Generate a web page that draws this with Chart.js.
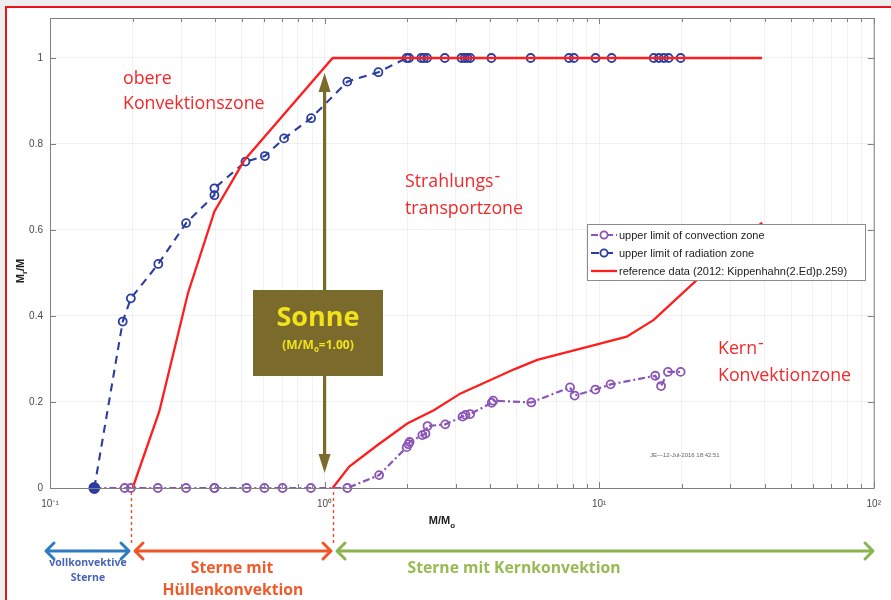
<!DOCTYPE html>
<html>
<head>
<meta charset="utf-8">
<script src="https://cdn.jsdelivr.net/npm/chart.js@4.4.0/dist/chart.umd.min.js"></script>
<style>
  html, body { margin: 0; padding: 0; background: #ffffff; }
  #wrap { width: 891px; height: 600px; position: relative; }
</style>
</head>
<body>
<div id="wrap"><canvas id="c" width="891" height="600"></canvas></div>
<script>
// Stellar models: upper limit of the radiation zone (mass fraction M_r/M)
const radMass = [0.145, 0.184, 0.197, 0.248, 0.313, 0.397, 0.397, 0.515, 0.606, 0.712, 0.893, 1.21, 1.57,
                 1.99, 2.03, 2.25, 2.30, 2.36, 2.74, 3.15, 3.24, 3.31, 3.39, 4.05, 5.63, 7.76, 8.09, 9.70,
                 11.1, 15.8, 16.5, 17.2, 17.9, 19.8];
const radFrac = [0, 0.387, 0.441, 0.521, 0.616, 0.681, 0.697, 0.759, 0.772, 0.813, 0.860, 0.945, 0.967,
                 1, 1, 1, 1, 1, 1, 1, 1, 1, 1, 1, 1, 1, 1, 1,
                 1, 1, 1, 1, 1, 1];

// Stellar models: upper limit of the convection zone
const convMass = [0.145, 0.187, 0.197, 0.247, 0.313, 0.397, 0.397, 0.52, 0.604, 0.703, 0.891, 1.21, 1.58,
                  1.99, 2.02, 2.04, 2.27, 2.33, 2.37, 2.75, 3.18, 3.26, 3.39, 4.06, 4.11, 5.66, 7.83, 8.14,
                  9.69, 11.0, 16.0, 16.8, 17.8, 19.8];
const convFrac = [0, 0, 0, 0, 0, 0, 0, 0, 0, 0, 0, 0, 0.030,
                  0.095, 0.102, 0.107, 0.123, 0.126, 0.144, 0.148, 0.166, 0.170, 0.172, 0.198, 0.203, 0.199,
                  0.234, 0.215, 0.229, 0.241, 0.261, 0.237, 0.270, 0.270];

// Reference data (Kippenhahn): lower edge of the outer convection zone
const refEnvMass = [0.2, 0.25, 0.318, 0.397, 0.511, 1.07, 39.2];
const refEnvFrac = [0, 0.178, 0.453, 0.643, 0.763, 1.0, 1.0];

// Reference data (Kippenhahn): edge of the convective core
const refCoreMass = [1.07, 1.23, 1.56, 2.0, 2.5, 3.13, 4.02, 4.9, 5.95, 9.67, 12.6, 15.8, 22.7, 39.2];
const refCoreFrac = [0, 0.050, 0.100, 0.150, 0.181, 0.220, 0.251, 0.276, 0.298, 0.333, 0.352, 0.391, 0.484, 0.617];

// Axis ticks
const xDecades = [0.1, 1, 10, 100];
const xDecadeLabels = ['10\u207B\u00B9', '10\u2070', '10\u00B9', '10\u00B2'];
const yTicks = [0, 0.2, 0.4, 0.6, 0.8, 1];
const yTickLabels = ['0', '0.2', '0.4', '0.6', '0.8', '1'];

const PURPLE = '#8a55b6';
const BLUE = '#2b3d9f';
const RED = '#ff1e1e';
const OLIVE = '#7a6a2c';
const TXT_RED = '#f2282a';
const SANS = '"Liberation Sans", Arial, sans-serif';
const HUMAN = '"Open Sans", "Noto Sans", sans-serif';

const pts = (xs, ys) => xs.map((x, i) => ({ x, y: ys[i] }));

// draw a run of text pieces (for subscripts), left or centred
function textRuns(ctx, list, x, y, align, color, family, weight) {
  let total = 0;
  for (const [t, s] of list) {
    ctx.font = `${weight} ${s}px ${family}`;
    total += ctx.measureText(t).width;
  }
  let cx = align === 'center' ? x - total / 2 : x;
  ctx.fillStyle = color;
  ctx.textAlign = 'left';
  ctx.textBaseline = 'alphabetic';
  for (const [t, s, dy] of list) {
    ctx.font = `${weight} ${s}px ${family}`;
    ctx.fillText(t, cx, y + (dy || 0));
    cx += ctx.measureText(t).width;
  }
}

function dblArrow(ctx, x1, x2, y, color) {
  const h = 8;
  ctx.save();
  ctx.strokeStyle = color;
  ctx.lineWidth = 3;
  ctx.lineCap = 'round';
  ctx.lineJoin = 'round';
  ctx.beginPath();
  ctx.moveTo(x1 + 1, y); ctx.lineTo(x2 - 1, y);
  ctx.moveTo(x1 + h, y - h); ctx.lineTo(x1, y); ctx.lineTo(x1 + h, y + h);
  ctx.moveTo(x2 - h, y - h); ctx.lineTo(x2, y); ctx.lineTo(x2 - h, y + h);
  ctx.stroke();
  ctx.restore();
}

const decorations = {
  id: 'decorations',
  beforeDraw(chart) {
    const { ctx, width, height } = chart;
    ctx.save();
    ctx.fillStyle = '#ffffff';
    ctx.fillRect(0, 0, width, height);
    ctx.fillStyle = '#eeeeee';
    ctx.fillRect(0, 0, width, 6);
    ctx.fillRect(0, 0, 5, height);
    ctx.restore();
  },
  afterDatasetsDraw(chart) {
    const { ctx, chartArea: a, scales } = chart;
    const xs = scales.x, ys = scales.y;
    ctx.save();

    // frame with inward ticks
    ctx.strokeStyle = '#808080';
    ctx.lineWidth = 1;
    ctx.strokeRect(a.left + 0.5, a.top + 0.5, a.right - a.left, a.bottom - a.top);
    ctx.beginPath();
    for (const t of xs.ticks) {
      const px = Math.round(xs.getPixelForValue(t.value)) + 0.5;
      const major = xDecades.some(d => Math.abs(d - t.value) < 1e-9);
      const len = major ? 6 : 4;
      ctx.moveTo(px, a.bottom); ctx.lineTo(px, a.bottom - len);
      ctx.moveTo(px, a.top); ctx.lineTo(px, a.top + len);
    }
    for (const v of yTicks) {
      const py = Math.round(ys.getPixelForValue(v)) + 0.5;
      ctx.moveTo(a.left, py); ctx.lineTo(a.left + 6, py);
      ctx.moveTo(a.right, py); ctx.lineTo(a.right - 6, py);
    }
    ctx.stroke();

    // zone labels inside the plot
    ctx.fillStyle = TXT_RED;
    ctx.font = `17.8px ${HUMAN}`;
    ctx.textAlign = 'left';
    ctx.textBaseline = 'alphabetic';
    ctx.fillText('obere', 123, 84);
    ctx.fillText('Konvektionszone', 123, 109);
    ctx.fillText('Strahlungs', 405, 187);
    ctx.fillText('-', 405 + ctx.measureText('Strahlungs').width + 1, 182);
    ctx.fillText('transportzone', 405, 214);
    ctx.fillText('Kern', 718, 354);
    ctx.fillText('-', 718 + ctx.measureText('Kern').width + 1, 349);
    ctx.fillText('Konvektionzone', 718, 381);

    // solar-mass marker: double arrow at M = 1
    const ax = xs.getPixelForValue(1);
    const yTop = ys.getPixelForValue(0.965), yBot = ys.getPixelForValue(0.035);
    ctx.strokeStyle = OLIVE;
    ctx.fillStyle = OLIVE;
    ctx.lineWidth = 3.2;
    ctx.beginPath();
    ctx.moveTo(ax, yTop + 15); ctx.lineTo(ax, yBot - 15);
    ctx.stroke();
    ctx.beginPath();
    ctx.moveTo(ax, yTop); ctx.lineTo(ax - 6, yTop + 19); ctx.lineTo(ax + 6, yTop + 19); ctx.closePath();
    ctx.moveTo(ax, yBot); ctx.lineTo(ax - 6, yBot - 19); ctx.lineTo(ax + 6, yBot - 19); ctx.closePath();
    ctx.fill();

    // "Sonne" box
    ctx.fillStyle = OLIVE;
    ctx.fillRect(253, 290, 130, 86);
    ctx.fillStyle = '#f2e21c';
    ctx.textAlign = 'center';
    ctx.font = `bold 27px ${HUMAN}`;
    ctx.fillText('Sonne', 318, 326);
    textRuns(ctx, [['(M/M', 12, 0], ['o', 8, 3], ['=1.00)', 12, 0]], 318, 349, 'center', '#f2e21c', HUMAN, 'bold');

    // timestamp
    ctx.fillStyle = '#666666';
    ctx.font = `6px ${SANS}`;
    ctx.textAlign = 'left';
    ctx.textBaseline = 'middle';
    ctx.fillText('JE---12-Jul-2016 18:42:51', 650, 455);

    // legend
    const lx = 587, ly = 224, lw = 278, lh = 56;
    ctx.fillStyle = '#ffffff';
    ctx.fillRect(lx, ly, lw, lh);
    ctx.strokeStyle = '#8c8c8c';
    ctx.lineWidth = 1;
    ctx.strokeRect(lx + 0.5, ly + 0.5, lw, lh);
    [0, 1, 2].forEach(i => {
      const ds = chart.data.datasets[i];
      const ry = 235 + i * 18;
      ctx.save();
      ctx.strokeStyle = ds.borderColor;
      ctx.lineWidth = ds.borderWidth;
      ctx.setLineDash(ds.borderDash || []);
      ctx.beginPath(); ctx.moveTo(591, ry); ctx.lineTo(617, ry); ctx.stroke();
      ctx.setLineDash([]);
      if (i < 2) {
        ctx.lineWidth = 1.8;
        ctx.fillStyle = '#ffffff';
        ctx.beginPath(); ctx.arc(604, ry, 3.6, 0, Math.PI * 2); ctx.fill(); ctx.stroke();
      }
      ctx.restore();
      ctx.fillStyle = '#222222';
      ctx.font = `11px ${SANS}`;
      ctx.textAlign = 'left';
      ctx.textBaseline = 'middle';
      ctx.fillText(ds.label, 619, ry + 0.5);
    });
    ctx.restore();
  },
  afterDraw(chart) {
    const { ctx, width, height, scales } = chart;
    const xs = scales.x;
    ctx.save();

    // axis titles
    textRuns(ctx, [['M/M', 11, 0], ['o', 8, 4]], 442, 524, 'center', '#222222', SANS, 'bold');
    ctx.save();
    ctx.translate(24, 271);
    ctx.rotate(-Math.PI / 2);
    textRuns(ctx, [['M', 11, 0], ['r', 8, 3], ['/M', 11, 0]], 0, 0, 'center', '#222222', SANS, 'bold');
    ctx.restore();

    // mass-range dividers
    ctx.strokeStyle = '#f04a2a';
    ctx.lineWidth = 1.4;
    ctx.setLineDash([3, 3]);
    [0.197, 1.07].forEach(m => {
      const px = Math.round(xs.getPixelForValue(m)) + 0.5;
      ctx.beginPath(); ctx.moveTo(px, 492); ctx.lineTo(px, 546); ctx.stroke();
    });
    ctx.setLineDash([]);

    // mass-range arrows
    dblArrow(ctx, 46, 129, 551, '#2e7bc4');
    dblArrow(ctx, 135, 331, 551, '#f0552a');
    dblArrow(ctx, 337, 873, 551, '#8cb44e');

    // mass-range captions
    ctx.textAlign = 'center';
    ctx.textBaseline = 'alphabetic';
    ctx.fillStyle = '#4864b4';
    ctx.font = `bold 10.5px ${HUMAN}`;
    ctx.fillText('vollkonvektive', 88, 566);
    ctx.fillText('Sterne', 88, 581);
    ctx.fillStyle = '#f05a2a';
    ctx.font = `bold 15.7px ${HUMAN}`;
    ctx.fillText('Sterne mit', 232, 573);
    ctx.fillText('H\u00FCllenkonvektion', 233, 595);
    ctx.fillStyle = '#97ba52';
    ctx.fillText('Sterne mit Kernkonvektion', 514, 573);

    // red page frame
    ctx.strokeStyle = '#e8141c';
    ctx.lineWidth = 2;
    ctx.beginPath();
    ctx.moveTo(6, height); ctx.lineTo(6, 7); ctx.lineTo(width, 7);
    ctx.stroke();
    ctx.restore();
  }
};

const gridColor = 'rgba(0,0,0,0.055)';

new Chart(document.getElementById('c'), {
  type: 'scatter',
  data: {
    datasets: [
      {
        label: 'upper limit of convection zone',
        data: pts(convMass, convFrac),
        showLine: true,
        borderColor: PURPLE,
        borderWidth: 2.2,
        borderDash: [7, 3, 2, 3],
        pointRadius: 4,
        pointBorderWidth: 1.8,
        pointBorderColor: PURPLE,
        pointBackgroundColor: 'rgba(255,255,255,0)',
        clip: 8,
        order: 2
      },
      {
        label: 'upper limit of radiation zone',
        data: pts(radMass, radFrac),
        showLine: true,
        borderColor: BLUE,
        borderWidth: 2.1,
        borderDash: [8, 6],
        pointRadius: radMass.map((m, i) => i === 0 ? 5 : 4),
        pointBorderWidth: 1.8,
        pointBorderColor: BLUE,
        pointBackgroundColor: radMass.map((m, i) => i === 0 ? BLUE : 'rgba(255,255,255,0)'),
        clip: 8,
        order: 1
      },
      {
        label: 'reference data (2012: Kippenhahn(2.Ed)p.259)',
        data: pts(refEnvMass, refEnvFrac),
        showLine: true,
        borderColor: RED,
        borderWidth: 2.3,
        pointRadius: 0,
        clip: 4,
        order: 0
      },
      {
        label: 'reference data (2012: Kippenhahn(2.Ed)p.259)',
        data: pts(refCoreMass, refCoreFrac),
        showLine: true,
        borderColor: RED,
        borderWidth: 2.3,
        pointRadius: 0,
        clip: 4,
        order: 0
      }
    ]
  },
  options: {
    responsive: false,
    animation: false,
    devicePixelRatio: 1,
    layout: { padding: { top: 18, right: 14, left: 0, bottom: 0 } },
    plugins: { legend: { display: false }, tooltip: { enabled: false } },
    scales: {
      x: {
        type: 'logarithmic',
        min: 0.1,
        max: 100,
        afterBuildTicks(scale) {
          const t = [];
          for (const d of xDecades.slice(0, 3)) for (let k = 1; k <= 9; k++) t.push({ value: d * k });
          t.push({ value: 100 });
          scale.ticks = t;
        },
        afterFit(scale) { scale.height = 112; },
        grid: { color: gridColor, drawTicks: false },
        border: { display: false },
        ticks: {
          autoSkip: false,
          maxRotation: 0,
          padding: 10,
          color: '#4a4a4a',
          font: { family: SANS, size: 10 },
          callback(value) {
            const i = xDecades.findIndex(d => Math.abs(d - value) < 1e-9);
            return i >= 0 ? xDecadeLabels[i] : '';
          }
        }
      },
      y: {
        min: 0,
        max: 1.093,
        afterBuildTicks(scale) { scale.ticks = yTicks.map(v => ({ value: v })); },
        afterFit(scale) { scale.width = 50; },
        grid: { color: gridColor, drawTicks: false },
        border: { display: false },
        ticks: {
          padding: 7,
          color: '#4a4a4a',
          font: { family: SANS, size: 10 },
          callback(value) {
            const i = yTicks.findIndex(v => Math.abs(v - value) < 1e-9);
            return i >= 0 ? yTickLabels[i] : '';
          }
        }
      }
    }
  },
  plugins: [decorations]
});
</script>
</body>
</html>
